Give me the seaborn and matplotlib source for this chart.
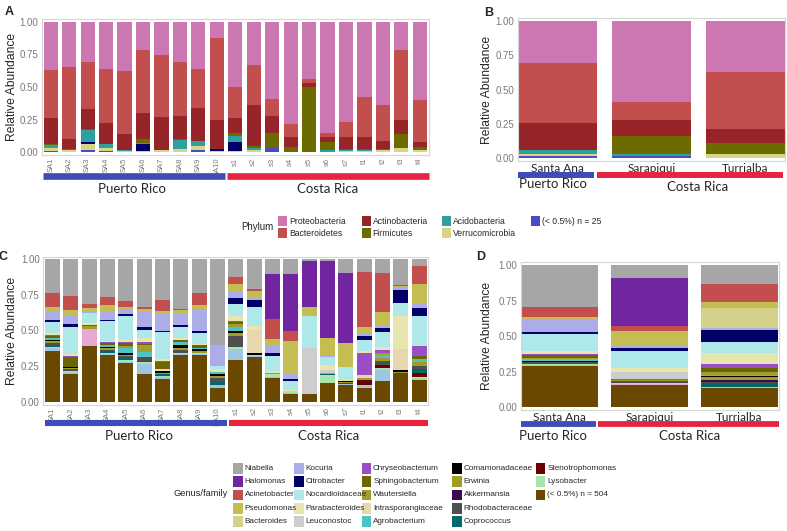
import matplotlib
matplotlib.use("Agg")
import matplotlib.pyplot as plt
from matplotlib.patches import Rectangle
from matplotlib.transforms import blended_transform_factory
import seaborn as sns
import pandas as pd

# ---- categories -----------------------------------------------------------
samples = ["SA1", "SA2", "SA3", "SA4", "SA5", "SA6", "SA7", "SA8", "SA9", "SA10",
           "s1", "s2", "s3", "s4", "s5", "s6", "s7", "t1", "t2", "t3", "t4"]
sites = ["Santa Ana", "Sarapiqui", "Turrialba"]

# ---- phylum level, per sample (panel A) -----------------------------------
proteo_a = [.37, .35, .31, .365, .375, .22, .255, .31, .36, .122,
            .50, .335, .59, .785, .44, .855, .77, .575, .635, .22, .60]
bactero_a = [.365, .55, .355, .41, .485, .48, .48, .41, .30, .63,
             .24, .30, .13, .10, .03, .03, .115, .31, .28, .53, .32]
actino_a = [.205, .075, .16, .16, .125, .20, .255, .18, .25, .225,
            .11, .315, .135, .075, .03, .04, .09, .09, .06, .11, .04]
firmi_a = [.005, .005, .005, .005, 0, .03, 0, .005, .005, 0,
           .025, .015, .115, .04, .50, .06, .005, .01, .01, .11, .02]
acido_a = [.025, 0, .09, .025, .005, .005, 0, .07, .04, 0,
           .05, .02, 0, 0, 0, .01, .01, .005, 0, 0, .005]
unassigned_a = [0, 0, .015, 0, 0, .055, 0, 0, 0, .015,
                .065, 0, 0, 0, 0, 0, 0, 0, 0, 0, 0]
verruco_a = [.02, .015, .045, .025, .005, .005, .01, .02, .03, .003,
             .005, .01, 0, 0, 0, .005, .005, .005, .01, .03, .01]
rare_phyla_a = [.01, .005, .02, .01, .005, .005, .005, .005, .015, .005,
                .005, .005, .03, 0, 0, 0, .005, .005, .005, 0, .005]

# ---- phylum level, per site (panel B) -------------------------------------
proteo_b = [.31, .59, .37]
bactero_b = [.43, .13, .42]
actino_b = [.20, .12, .10]
firmi_b = [0, .13, .075]
acido_b = [.03, .01, .005]
unassigned_b = [0, 0, 0]
verruco_b = [.01, .005, .03]
rare_phyla_b = [.02, .015, 0]

# ---- genus/family level, per sample (panel C) -----------------------------
niabella_c = [.233, .256, .316, .268, .29, .337, .286, .351, .236, .601,
              .124, .211, .103, .103, .009, .009, .094, .087, .094, .18, .05]
halomonas_c = [0, 0, 0, 0, 0, 0, 0, 0, 0, 0,
               0, 0, .319, .398, .328, .546, .496, 0, 0, 0, 0]
acinetobacter_c = [.10, .10, .028, .056, .047, .011, .08, .005, .082, 0,
                   .047, .009, .14, .07, 0, 0, 0, .386, .274, .01, .12]
pseudomonas_c = [.027, .035, .016, .037, .019, .012, .014, .023, .035, 0,
                 .058, .042, .047, .23, .061, .124, .164, .053, .10, .01, .14]
bacteroides_c = [0] * 21
kocuria_c = [.066, .063, .015, .064, .028, .112, .122, .082, .152, .145,
             .04, .024, .047, .042, 0, .01, 0, .01, .012, .015, .03]
citrobacter_c = [.012, .024, 0, .011, .012, .024, .011, .017, .012, .005,
                 .047, .047, .023, .009, 0, 0, 0, .03, .03, .095, .06]
nocardioid_c = [.082, .19, .07, .136, .172, .056, .19, .077, .08, .02,
                .084, .135, .103, .066, .227, .052, .094, .075, .105, .09, .21]
parabact_c = [.01, .01, .015, .008, .01, .03, .01, .01, .008, .02,
              .03, .031, .014, .008, 0, .04, .005, .015, .02, .23, 0]
leuconostoc_c = [0, 0, 0, 0, 0, 0, 0, 0, 0, 0,
                 0, 0, 0, 0, .313, .015, 0, 0, 0, 0, 0]
chryseo_c = [.01, .005, 0, .01, .012, .012, .01, .005, 0, 0,
             .012, 0, 0, 0, 0, 0, .005, .16, .025, 0, .07]
sphingo_c = [.01, .07, .01, .01, .02, .01, .05, .01, .015, 0,
             .01, 0, 0, 0, 0, 0, 0, 0, 0, 0, .02]
wauters_c = [0, 0, .01, 0, .01, .05, 0, 0, 0, 0,
             .02, 0, 0, 0, 0, 0, 0, 0, .01, 0, 0]
intraspor_c = [0, 0, 0, 0, 0, 0, .01, 0, 0, 0,
               0, .16, 0, 0, 0, 0, 0, .015, 0, .15, 0]
agrobact_c = [.02, 0, 0, .015, .04, .03, 0, .025, .01, .015,
              .035, 0, 0, 0, 0, .01, 0, 0, .02, 0, .02]
comamonad_c = [.005, .01, 0, .01, .01, 0, .015, .02, .015, .015,
               .01, .01, 0, 0, 0, 0, .005, 0, 0, .01, 0]
erwinia_c = [.01, .01, .01, .01, .01, 0, .01, .01, .01, .01,
             .02, 0, .01, 0, 0, 0, .005, .02, .025, .01, .03]
akkermansia_c = [0] * 21
rhodobact_c = [.02, .01, 0, .01, .01, .03, 0, .02, 0, .03,
               .08, 0, 0, 0, 0, 0, 0, 0, .025, 0, .02]
coprococcus_c = [.01, 0, 0, .01, .02, .01, .01, 0, 0, .02,
                 0, 0, 0, 0, 0, .01, .01, 0, 0, 0, .03]
stenotroph_c = [0, 0, 0, 0, 0, 0, 0, 0, 0, 0,
                0, 0, 0, 0, 0, 0, 0, .03, .025, 0, .03]
lysobacter_c = [.01, .01, 0, .01, .01, .01, .01, .01, .01, 0,
                .01, .01, .02, .01, .008, .055, 0, 0, .01, 0, .01]
pinkish_c = [0, 0, .11, 0, 0, 0, 0, 0, 0, 0,
             0, 0, 0, 0, 0, 0, 0, 0, 0, 0, 0]
lightblue_c = [.02, .01, .01, .01, .01, .07, .01, .01, .01, .025,
               .08, .01, .01, .01, 0, 0, .005, .025, .08, 0, .01]
rare_genera_c = [.355, .197, .39, .325, .27, .196, .162, .325, .325, .094,
                 .293, .311, .164, .054, .054, .129, .117, .094, .145, .20, .15]

# ---- genus/family level, per site (panel D) -------------------------------
niabella_d = [.293, .094, .133]
halomonas_d = [0, .335, 0]
acinetobacter_d = [.07, .032, .125]
pseudomonas_d = [.023, .101, .046]
bacteroides_d = [0, 0, .141]
kocuria_d = [.082, .023, .012]
citrobacter_d = [.017, .017, .082]
nocardioid_d = [.117, .124, .082]
parabact_d = [.023, .025, .075]
leuconostoc_d = [0, .047, 0]
chryseo_d = [.005, .01, .03]
sphingo_d = [.025, 0, .026]
wauters_d = [.005, 0, .02]
intraspor_d = [0, 0, 0]
agrobact_d = [.015, 0, .005]
comamonad_d = [.01, 0, .01]
erwinia_d = [0, .01, .02]
akkermansia_d = [0, 0, .015]
rhodobact_d = [.01, .01, .01]
coprococcus_d = [0, 0, .025]
stenotroph_d = [0, 0, 0]
lysobacter_d = [.005, .005, 0]
pinkish_d = [.01, .01, .005]
lightblue_d = [0, 0, 0]
rare_genera_d = [.29, .157, .138]

# ---- taxa (top of stack first) and colours --------------------------------
phyla = ["Proteobacteria", "Bacteroidetes", "Actinobacteria", "Firmicutes",
         "Acidobacteria", "Unassigned", "Verrucomicrobia", "(< 0.5%) n = 25"]
phylum_colors = ["#CC77B2", "#C24E4E", "#972428", "#6B6B00",
                 "#2F9F9F", "#000066", "#D6D684", "#4B4BC4"]
phylum_a = [proteo_a, bactero_a, actino_a, firmi_a, acido_a, unassigned_a, verruco_a, rare_phyla_a]
phylum_b = [proteo_b, bactero_b, actino_b, firmi_b, acido_b, unassigned_b, verruco_b, rare_phyla_b]

genera = ["Niabella", "Halomonas", "Acinetobacter", "Pseudomonas", "Bacteroides",
          "Kocuria", "Citrobacter", "Nocardioidaceae", "Parabacteroides", "Leuconostoc",
          "Chryseobacterium", "Sphingobacterium", "Wautersiella", "Intrasporangiaceae",
          "Agrobacterium", "Comamonadaceae", "Erwinia", "Akkermansia", "Rhodobacteraceae",
          "Coprococcus", "Stenotrophomonas", "Lysobacter", "pinkish", "lightblue",
          "(< 0.5%) n = 504"]
genus_colors = ["#A6A6A6", "#7225A0", "#C24E4E", "#C4BE52", "#D4D18A",
                "#ACACE8", "#000066", "#AFE8E8", "#E8E6AE", "#CDCDCD",
                "#9B4DC6", "#6B6600", "#A09E30", "#E8D6AE",
                "#4DC4C4", "#000000", "#9E9E22", "#3D0A52", "#4F4F4F",
                "#006868", "#6A0000", "#AAE4AA", "#E8A8D4", "#9CC6E2",
                "#6B4800"]
genus_c = [niabella_c, halomonas_c, acinetobacter_c, pseudomonas_c, bacteroides_c,
           kocuria_c, citrobacter_c, nocardioid_c, parabact_c, leuconostoc_c,
           chryseo_c, sphingo_c, wauters_c, intraspor_c, agrobact_c, comamonad_c,
           erwinia_c, akkermansia_c, rhodobact_c, coprococcus_c, stenotroph_c,
           lysobacter_c, pinkish_c, lightblue_c, rare_genera_c]
genus_d = [niabella_d, halomonas_d, acinetobacter_d, pseudomonas_d, bacteroides_d,
           kocuria_d, citrobacter_d, nocardioid_d, parabact_d, leuconostoc_d,
           chryseo_d, sphingo_d, wauters_d, intraspor_d, agrobact_d, comamonad_d,
           erwinia_d, akkermansia_d, rhodobact_d, coprococcus_d, stenotroph_d,
           lysobacter_d, pinkish_d, lightblue_d, rare_genera_d]

BLUE = "#3F4BB8"
RED = "#E8233F"
GRAY = "#7a7a7a"

sns.set_style("white")
plt.rcParams['font.family'] = ['Liberation Sans', 'DejaVu Sans']

W, H = 787, 531
fig = plt.figure(figsize=(W / 100, H / 100), dpi=100)


def px_axes(left, top, right, bottom):
    return fig.add_axes([left / W, 1 - bottom / H, (right - left) / W, (bottom - top) / H])


def stacked(ax, columns, taxa, series, colors, width):
    rows = []
    for taxon, vals in zip(taxa, series):
        for col, v in zip(columns, vals):
            rows.append((col, taxon, v))
    df = pd.DataFrame(rows, columns=["sample", "taxon", "abundance"])
    df["sample"] = pd.Categorical(df["sample"], categories=columns)
    sns.histplot(data=df, x="sample", weights="abundance", hue="taxon",
                 hue_order=taxa, palette=dict(zip(taxa, colors)),
                 multiple="fill", discrete=True, shrink=width, alpha=1,
                 linewidth=0, legend=False, ax=ax)


def style_axes(ax, xlim, label_x):
    ax.set_xlim(*xlim)
    ax.set_ylim(-0.02, 1.02)
    ax.set_yticks([0, .25, .5, .75, 1])
    ax.set_yticklabels(["0.00", "0.25", "0.50", "0.75", "1.00"], fontsize=7, color=GRAY)
    ax.tick_params(axis="y", length=1.5, pad=1, color="#b5b5b5", width=0.6)
    ax.set_xlabel("")
    ax.set_ylabel("Relative Abundance", fontsize=8.7)
    ax.yaxis.set_label_coords(label_x, 0.5)
    for sp in ax.spines.values():
        sp.set_color("#d5d5d5")
        sp.set_linewidth(0.8)


def group_bars(ax, blue_span, red_span, y, lw, pr_xy, cr_xy):
    tr = blended_transform_factory(ax.transData, ax.transAxes)
    ax.plot(blue_span, [y, y], color=BLUE, lw=lw, transform=tr, clip_on=False, solid_capstyle="butt")
    ax.plot(red_span, [y, y], color=RED, lw=lw, transform=tr, clip_on=False, solid_capstyle="butt")
    fig.text(pr_xy[0] / W, 1 - pr_xy[1] / H, "Puerto Rico", ha="center", va="center",
             fontsize=9.5, family=["Lato", "DejaVu Sans"])
    fig.text(cr_xy[0] / W, 1 - cr_xy[1] / H, "Costa Rica", ha="center", va="center",
             fontsize=9.5, family=["Lato", "DejaVu Sans"])


def sample_ticks(ax):
    ax.set_xticks(range(len(samples)))
    ax.set_xticklabels(samples, rotation=90, fontsize=5.5, color=GRAY)
    ax.tick_params(axis="x", length=0, pad=2)


def site_ticks(ax):
    ax.set_xticks(range(len(sites)))
    ax.set_xticklabels(sites, fontsize=8.5, family=["Lato", "DejaVu Sans"])
    ax.tick_params(axis="x", length=0, pad=1.5)


# ---- panel A --------------------------------------------------------------
axA = px_axes(41.5, 19.1, 429, 154.9)
stacked(axA, samples, phyla, phylum_a, phylum_colors, 0.77)
style_axes(axA, (-0.5, 20.5), -0.060)
sample_ticks(axA)
group_bars(axA, [-0.42, 9.45], [9.55, 20.5], -0.155, 4.8, (132, 189), (328, 189))

# ---- panel B --------------------------------------------------------------
axB = px_axes(517.7, 17.9, 785, 161.1)
stacked(axB, sites, phyla, phylum_b, phylum_colors, 0.84)
style_axes(axB, (-0.42, 2.42), -0.094)
site_ticks(axB)
group_bars(axB, [-0.42, 0.39], [0.42, 2.40], -0.097, 4.3, (553, 184), (698, 187))

# ---- panel C --------------------------------------------------------------
axC = px_axes(43.3, 256.5, 428.3, 404.5)
stacked(axC, samples, genera, genus_c, genus_colors, 0.82)
style_axes(axC, (-0.5, 20.5), -0.065)
sample_ticks(axC)
group_bars(axC, [-0.41, 9.52], [9.63, 20.49], -0.127, 4.4, (139, 436), (329, 436))

# ---- panel D --------------------------------------------------------------
axD = px_axes(520.7, 262.2, 779, 410.1)
stacked(axD, sites, genera, genus_d, genus_colors, 0.85)
style_axes(axD, (-0.43, 2.44), -0.106)
site_ticks(axD)
group_bars(axD, [-0.43, 0.407], [0.43, 2.44], -0.094, 4.2, (553, 436), (690, 436))

# ---- panel letters --------------------------------------------------------
for letter, x, y in [("A", 9, 12), ("B", 489, 13), ("C", 3, 257), ("D", 481, 257)]:
    fig.text(x / W, 1 - y / H, letter, fontsize=9, fontweight="bold", ha="center", va="center")


# ---- legends --------------------------------------------------------------
def legend_columns(title, title_xy, columns, col_x, row_y, row_dy, pw, ph, size, lookup):
    fig.text(title_xy[0] / W, 1 - title_xy[1] / H, title, ha="right", va="center", fontsize=size + 0.8)
    for names, x in zip(columns, col_x):
        for i, name in enumerate(names):
            yc = row_y + i * row_dy
            fig.add_artist(Rectangle((x / W, 1 - (yc + ph / 2) / H), pw / W, ph / H,
                                     transform=fig.transFigure, facecolor=lookup[name],
                                     edgecolor="none"))
            fig.text((x + pw + 2) / W, 1 - yc / H, name, ha="left", va="center", fontsize=size)


phylum_lookup = dict(zip(phyla, phylum_colors))
legend_columns("Phylum", (273, 227),
               [["Proteobacteria", "Bacteroidetes"], ["Actinobacteria", "Firmicutes"],
                ["Acidobacteria", "Verrucomicrobia"], ["(< 0.5%) n = 25"]],
               [278.3, 361.7, 442.3, 531], 221.2, 11.8, 9, 9.5, 6.2, phylum_lookup)

genus_lookup = dict(zip(genera, genus_colors))
legend_columns("Genus/family", (228, 493),
               [genera[0:5], genera[5:10], genera[10:15], genera[15:20],
                ["Stenotrophomonas", "Lysobacter", "(< 0.5%) n = 504"]],
               [233.3, 294.3, 361.7, 452.3, 536], 468.3, 13.35, 9.4, 10.5, 5.9, genus_lookup)

fig.savefig("out.png", dpi=100)
